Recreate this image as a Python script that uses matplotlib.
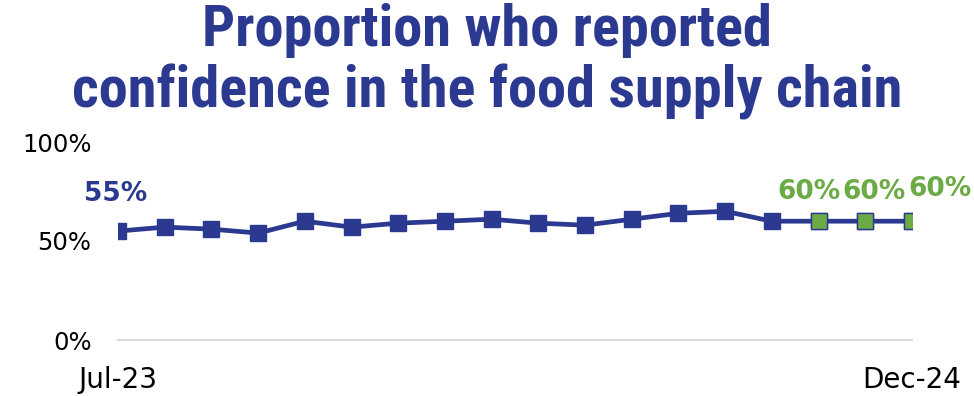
import matplotlib
matplotlib.use("Agg")
import matplotlib.pyplot as plt
from matplotlib import font_manager

# data
months = ["Jul-23", "Aug-23", "Sep-23", "Oct-23", "Nov-23", "Dec-23",
          "Jan-24", "Feb-24", "Mar-24", "Apr-24", "May-24", "Jun-24",
          "Jul-24", "Aug-24", "Sep-24", "Oct-24", "Nov-24", "Dec-24"]
values = [55, 57, 56, 54, 60, 57, 59, 60, 61, 59, 58, 61, 64, 65, 60, 60, 60, 60]
highlight = [15, 16, 17]          # green points (latest months)
labelled_first = 0
y_ticks = [0, 50, 100]
y_ticklabels = ["0%", "50%", "100%"]
title_lines = ["Proportion who reported", "confidence in the food supply chain"]

BLUE = "#2B3990"
GREEN = "#6AAB45"

# pick a narrow font for the title if one is around
installed = {f.name for f in font_manager.fontManager.ttflist}
narrow = [n for n in ["Roboto Condensed", "Open Sans Condensed", "Liberation Sans Narrow",
                      "DejaVu Sans Condensed", "Fira Sans Condensed"] if n in installed]
title_family = narrow[0] if narrow else "Roboto"

fig = plt.figure(figsize=(9.74, 3.96), dpi=100)
ax = fig.add_axes([118 / 974, 56 / 396, 794 / 974, 198 / 396])

x = list(range(len(values)))
ax.plot(x, values, color=BLUE, lw=3.4, marker="s", ms=12, mfc=BLUE, mec=BLUE, zorder=3)
ax.plot([x[i] for i in highlight], [values[i] for i in highlight], ls="none",
        marker="s", ms=11.5, mfc=GREEN, mec=BLUE, mew=1.0, zorder=4)

# data labels
ax.annotate(f"{values[labelled_first]}%", (x[labelled_first], values[labelled_first]),
            xytext=(-2, 17), textcoords="offset points", ha="center", va="bottom",
            color=BLUE, fontsize=19, fontweight="bold")
shifts = [(-7, 11.5), (6, 11.5), (20, 13.5)]
for i, (dx, dy) in zip(highlight, shifts):
    ax.annotate(f"{values[i]}%", (x[i], values[i]), xytext=(dx, dy),
                textcoords="offset points", ha="center", va="bottom",
                color=GREEN, fontsize=19, fontweight="bold")

ax.set_xlim(x[0], x[-1])
ax.set_ylim(0, 100)
ax.set_yticks(y_ticks)
ax.set_yticklabels(y_ticklabels, fontsize=17.5)
ax.set_xticks([x[0], x[-1]])
ax.set_xticklabels([months[0], months[-1]], fontsize=20)
ax.tick_params(length=0)
ax.tick_params(axis="y", pad=19)
ax.tick_params(axis="x", pad=19)
for s in ["top", "right", "left"]:
    ax.spines[s].set_visible(False)
ax.spines["bottom"].set_color("#D9D9D9")
ax.spines["bottom"].set_linewidth(1.5)
ax.spines["bottom"].set_zorder(1)

# title, two lines placed on their baselines, sized to about the reference width
t1 = fig.text(0.5, 1 - 46 / 396, title_lines[0], ha="center", va="baseline",
              color=BLUE, fontsize=40, fontweight="bold", family=title_family)
t2 = fig.text(0.5, 1 - 108 / 396, title_lines[1], ha="center", va="baseline",
              color=BLUE, fontsize=40, fontweight="bold", family=title_family)
fig.canvas.draw()
w2 = t2.get_window_extent().width
size = 40 * 830 / w2
t1.set_fontsize(size)
t2.set_fontsize(size)

fig.savefig("out.png", dpi=100)
